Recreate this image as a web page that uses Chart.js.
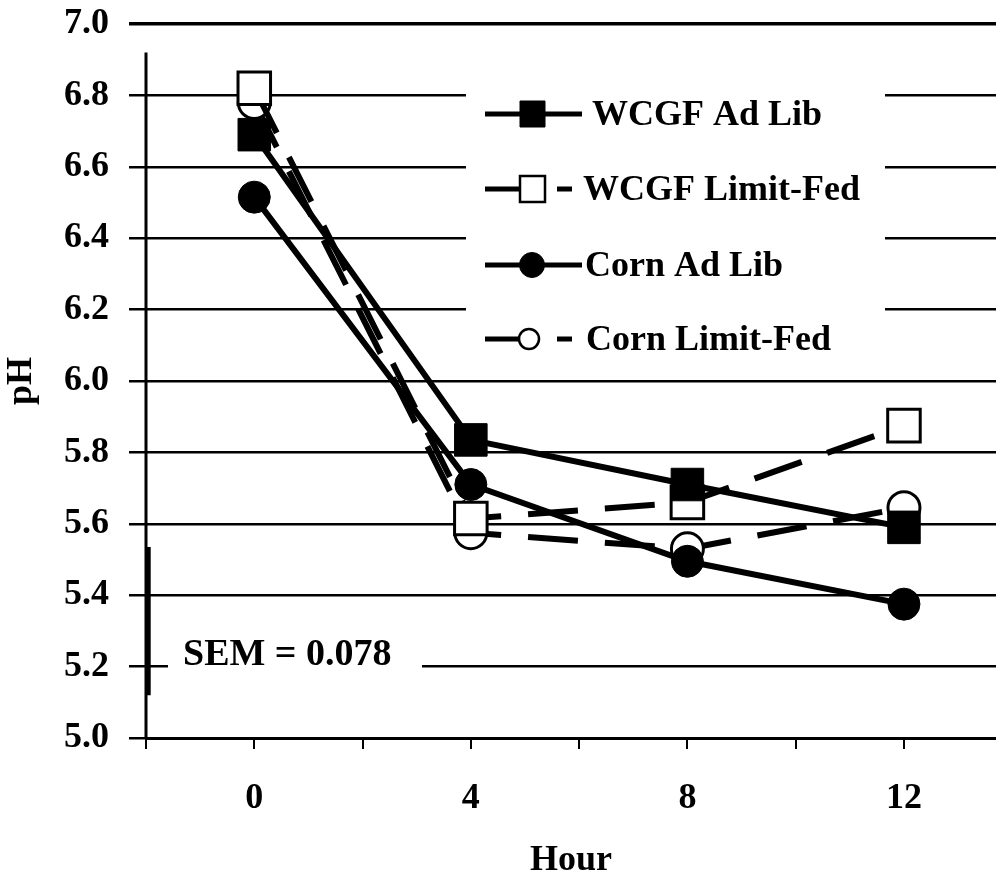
<!DOCTYPE html>
<html>
<head>
<meta charset="utf-8">
<title>Ruminal pH by hour</title>
<script src="https://cdn.jsdelivr.net/npm/chart.js"></script>
<style>
  html, body { margin: 0; padding: 0; background: #fff; }
  #wrap { width: 996px; height: 875px; position: relative; }
</style>
</head>
<body>
<div id="wrap"><canvas id="phChart"></canvas></div>
<script>
// DATA
const hours = [0, 4, 8, 12];
const wcgfAdLib = [6.69, 5.835, 5.71, 5.59];
const wcgfLimitFed = [6.82, 5.615, 5.66, 5.875];
const cornAdLib = [6.515, 5.71, 5.495, 5.375];
const cornLimitFed = [6.78, 5.575, 5.53, 5.645];
const seriesNames = ['WCGF Ad Lib', 'WCGF Limit-Fed', 'Corn Ad Lib', 'Corn Limit-Fed'];

const xTicks = [-2, 0, 2, 4, 6, 8, 10, 12];
const xLabelled = [0, 4, 8, 12];
const yTicks = [5.0, 5.2, 5.4, 5.6, 5.8, 6.0, 6.2, 6.4, 6.6, 6.8, 7.0];

// SEM bar drawn next to the y axis
const semX = -1.95;
const semRange = [5.12, 5.535];
const semText = 'SEM = 0.078';

const FONT = '"Liberation Serif", "Times New Roman", serif';
const DASH = [50, 27];

const pts = vals => hours.map((h, i) => ({ x: h, y: vals[i] }));

const series = [
    { data: wcgfAdLib,    style: 'rect',   radius: 23, filled: true,  dash: [] },
    { data: wcgfLimitFed, style: 'rect',   radius: 23, filled: false, dash: DASH },
    { data: cornAdLib,    style: 'circle', radius: 16, filled: true,  dash: [] },
    { data: cornLimitFed, style: 'circle', radius: 16, filled: false, dash: DASH }
];

const datasets = series.map((s, i) => ({
    label: seriesNames[i],
    data: pts(s.data),
    borderColor: '#000',
    borderWidth: 6,
    borderDash: s.dash,
    tension: 0,
    pointStyle: s.style,
    pointRadius: s.radius,
    pointBackgroundColor: s.filled ? '#000' : '#fff',
    pointBorderColor: '#000',
    pointBorderWidth: s.filled ? 1 : 3
}));

datasets.push({
    label: 'SEM',
    data: semRange.map(v => ({ x: semX, y: v })),
    borderColor: '#000',
    borderWidth: 4,
    pointRadius: 0,
    clip: false
});

// legend rows: y pixel, text x
const legendRows = [
    { y: 114, tx: 592 },
    { y: 189, tx: 583 },
    { y: 265, tx: 585 },
    { y: 339, tx: 586 }
];

const overlay = {
    id: 'overlay',
    beforeDatasetsDraw(chart) {
        const { ctx, chartArea, scales: { y } } = chart;
        ctx.save();

        // y axis line, starts a little below the 7.0 rule
        ctx.strokeStyle = '#000';
        ctx.lineWidth = 3;
        ctx.beginPath();
        ctx.moveTo(chartArea.left, y.getPixelForValue(6.92));
        ctx.lineTo(chartArea.left, chartArea.bottom);
        ctx.stroke();

        // blank out grid behind legend and SEM note
        ctx.fillStyle = '#fff';
        ctx.fillRect(466, 60, 419, 290);
        const y52 = y.getPixelForValue(5.2);
        ctx.fillRect(168, y52 - 6, 254, 12);

        ctx.fillStyle = '#000';
        ctx.font = 'bold 38px ' + FONT;
        ctx.textBaseline = 'alphabetic';
        ctx.fillText(semText, 183, y52 - 2);

        // legend
        series.forEach((s, i) => {
            const row = legendRows[i];
            ctx.strokeStyle = '#000';
            ctx.lineWidth = 5;
            ctx.setLineDash(s.dash.length ? [48, 24] : []);
            ctx.beginPath();
            ctx.moveTo(485, row.y);
            ctx.lineTo(s.dash.length ? 572 : 582, row.y);
            ctx.stroke();
            ctx.setLineDash([]);

            ctx.fillStyle = s.filled ? '#000' : '#fff';
            ctx.lineWidth = s.filled ? 1 : 2.5;
            ctx.beginPath();
            if (s.style === 'rect') {
                ctx.rect(520, row.y - 13, 25, 26);
            } else {
                ctx.arc(s.filled ? 532 : 529, row.y, s.filled ? 12.5 : 10, 0, Math.PI * 2);
            }
            ctx.fill();
            ctx.stroke();

            ctx.fillStyle = '#000';
            ctx.font = 'bold 36px ' + FONT;
            ctx.textBaseline = 'middle';
            ctx.fillText(seriesNames[i], row.tx, row.y + 2);
        });

        ctx.restore();
    }
};

new Chart(document.getElementById('phChart'), {
    type: 'line',
    data: { datasets },
    options: {
        responsive: true,
        maintainAspectRatio: false,
        devicePixelRatio: 1,
        animation: false,
        events: [],
        layout: { autoPadding: false, padding: { top: 24, right: 0, left: 0, bottom: 0 } },
        plugins: { legend: { display: false }, tooltip: { enabled: false } },
        scales: {
            x: {
                type: 'linear',
                min: -2,
                max: 13.7,
                afterBuildTicks: s => { s.ticks = xTicks.map(v => ({ value: v })); },
                afterFit: s => { s.height = 137; s.paddingLeft = 0; s.paddingRight = 0; },
                ticks: {
                    autoSkip: false,
                    maxRotation: 0,
                    padding: 28,
                    color: '#000',
                    font: { family: FONT, size: 36, weight: 'bold' },
                    callback: v => xLabelled.includes(v) ? String(v) : ''
                },
                grid: {
                    drawOnChartArea: false,
                    drawTicks: true,
                    tickLength: 11,
                    color: '#000',
                    lineWidth: 2
                },
                border: { display: true, color: '#000', width: 3 },
                title: {
                    display: true,
                    text: 'Hour',
                    color: '#000',
                    padding: 0,
                    font: { family: FONT, size: 36, weight: 'bold', lineHeight: 0.8 }
                }
            },
            y: {
                min: 5.0,
                max: 7.0,
                afterBuildTicks: s => { s.ticks = yTicks.map(v => ({ value: v })); },
                afterFit: s => { s.width = 146; s.paddingTop = 0; s.paddingBottom = 0; },
                ticks: {
                    padding: 20,
                    color: '#000',
                    font: { family: FONT, size: 36, weight: 'bold' },
                    callback: v => v.toFixed(1)
                },
                grid: {
                    drawTicks: true,
                    tickLength: 17,
                    color: '#000',
                    lineWidth: ctx => ctx.tick && ctx.tick.value === 7.0 ? 3.5 : 2.5
                },
                border: { display: false },
                title: {
                    display: true,
                    text: 'pH',
                    color: '#000',
                    padding: 0,
                    font: { family: FONT, size: 36, weight: 'bold' }
                }
            }
        }
    },
    plugins: [overlay]
});
</script>
</body>
</html>
